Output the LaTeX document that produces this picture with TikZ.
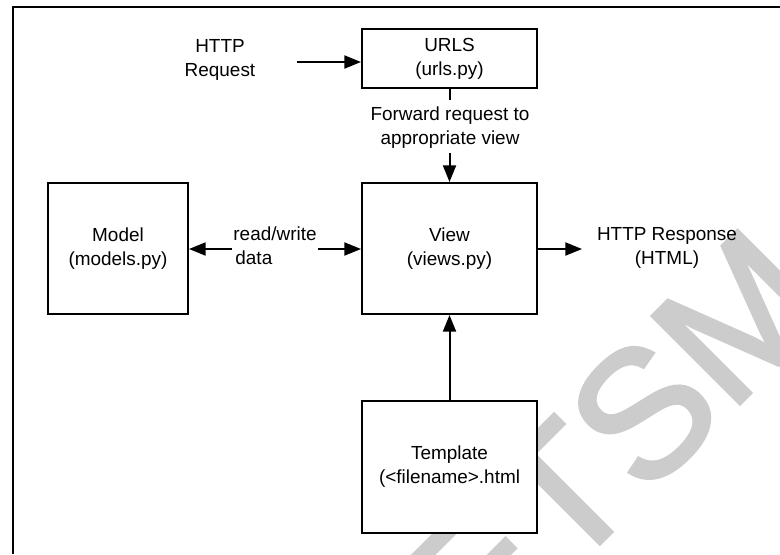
\documentclass[tikz,border=0pt]{standalone}
\usepackage{fontspec}
\setmainfont{Liberation Sans}
\newfontfamily\wmfont[FakeBold=2]{Liberation Sans}
\usetikzlibrary{arrows.meta}
\begin{document}
\begin{tikzpicture}[x=0.75pt,y=-0.75pt,
  txt/.style={font=\fontsize{14.2pt}{18pt}\selectfont},
  box/.style={txt, draw, line width=1.5pt, fill=white, inner sep=0pt, align=center},
  lbl/.style={txt, inner sep=0pt, align=center},
  conn/.style={line width=1.5pt, -{Triangle[length=12.5pt,width=9.75pt]}},
  plainline/.style={line width=1.5pt}]
\useasboundingbox (0,0) rectangle (780,554);
% watermark
\begin{scope}
\clip (0,0) rectangle (780,554);
\node[text=black!20, rotate=45, font=\wmfont\fontsize{135pt}{135pt}\selectfont, inner sep=0pt] (wm) at (615,441) {ETSM};
\end{scope}
% frame
\draw[line width=1.8pt] (780,7) -- (13,7) -- (13,554);
% boxes
\node[box, minimum width=131.25pt, minimum height=44.25pt] (urls) at (449.5,58.5) {URLS\\(urls.py)};
\node[box, minimum width=131.25pt, minimum height=98.25pt] (view) at (449.5,248.5) {View\\(views.py)};
\node[box, minimum width=105pt, minimum height=98.25pt] (model) at (118,248.5) {Model\\(models.py)};
\node[box, minimum width=131.25pt, minimum height=99pt] (tmpl) at (449.5,467) {Template\\(<filename>.html};
% labels
\node[lbl] (req) at (220,60) {HTTP\\Request};
\node[lbl] (fwd) at (450,128) {Forward request to\\appropriate view};
\node[lbl, align=left] (rw) at (275,246) {read/write\\\hspace{1.5pt}data};
\node[lbl] (resp) at (667,248) {HTTP Response\\(HTML)};
% free ends
\coordinate (reqend) at (297,62);
\coordinate (fwdtop) at (449.5,100);
\coordinate (fwdbot) at (449.5,153);
\coordinate (rwl) at (232,249);
\coordinate (rwr) at (318,249);
\coordinate (respend) at (582,249);
% connectors
\draw[conn] (reqend) -- (reqend -| urls.west);
\draw[plainline] (urls) -- (fwdtop);
\draw[conn] (fwdbot) -- (view);
\draw[conn] (rwl) -- (rwl -| model.east);
\draw[conn] (rwr) -- (rwr -| view.west);
\draw[conn] (respend -| view.east) -- (respend);
\draw[conn] (tmpl) -- (view);
\end{tikzpicture}
\end{document}
